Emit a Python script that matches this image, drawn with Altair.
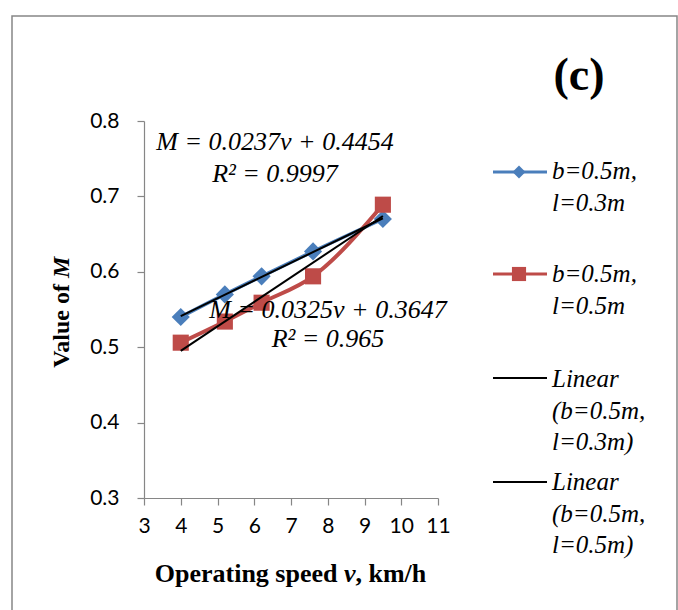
import altair as alt
import pandas as pd

# ---- data ----
speed = [4.0, 5.2, 6.2, 7.6, 9.5]
m_l03 = [0.540, 0.570, 0.594, 0.627, 0.670]
m_l05 = [0.506, 0.534, 0.559, 0.594, 0.689]
series_keys = ["l03", "l05"]
series_labels = ["b=0.5m,\nl=0.3m", "b=0.5m,\nl=0.5m"]
trend_labels = ["Linear\n(b=0.5m,\nl=0.3m)", "Linear\n(b=0.5m,\nl=0.5m)"]
eq_l03 = ["M = 0.0237v + 0.4454", "R² = 0.9997"]
eq_l05 = ["M = 0.0325v + 0.3647", "R² = 0.965"]
x_ticks = [3, 4, 5, 6, 7, 8, 9, 10, 11]
y_ticks = [0.3, 0.4, 0.5, 0.6, 0.7, 0.8]
x_domain = [3, 11]
y_domain = [0.3, 0.8]
fit_extent = [4, 9.5]
panel_label = "(c)"
x_title = ["Operating speed", "v", ", km/h"]
y_title = ["Value of", "M"]

# ---- styling ----
BLUE = "#4a7ebb"
RED = "#be4b48"
GREY = "#868686"
SERIF = "Liberation Serif"
W, H = 294, 377
LEFT, TOP = 144, 121

df = pd.DataFrame({
    "speed": speed * 2,
    "M": m_l03 + m_l05,
    "series": [series_keys[0]] * len(speed) + [series_keys[1]] * len(speed),
})
one = pd.DataFrame({"k": [0]})

xs = alt.Scale(domain=x_domain, nice=False, zero=False)
ys = alt.Scale(domain=y_domain, nice=False, zero=False)
x_enc = alt.X("speed:Q", scale=xs,
              axis=alt.Axis(values=x_ticks, format="d", title=None, grid=False,
                            labelPadding=10, labelOverlap=False, labelFlush=False))
y_enc = alt.Y("M:Q", scale=ys,
              axis=alt.Axis(values=y_ticks, format=".1f", title=None, grid=False,
                            labelPadding=18, labelOverlap=False))

base = alt.Chart(df)

def series_layers(key, color, shape, size, width):
    d = base.transform_filter(alt.datum.series == key)
    line = d.mark_line(color=color, strokeWidth=width, interpolate="monotone").encode(x=x_enc, y=y_enc)
    pts = d.mark_point(shape=shape, filled=True, color=color, size=size, opacity=1).encode(x=x_enc, y=y_enc)
    return line + pts

blue = series_layers(series_keys[0], BLUE, "diamond", 330, 3.5)
red = series_layers(series_keys[1], RED, "square", 260, 4)

trend = base.transform_regression(
    "speed", "M", groupby=["series"], method="linear", extent=fit_extent
).mark_line(color="black", strokeWidth=2).encode(x=x_enc, y=y_enc, detail="series:N")

def txt(text, x, y, size, align="center", baseline="middle", style="normal",
        weight="normal", angle=0, font=SERIF, line_height=None):
    kw = dict(text=text, fontSize=size, align=align, baseline=baseline, font=font,
              fontStyle=style, fontWeight=weight, color="black")
    if angle:
        kw["angle"] = angle
    if line_height:
        kw["lineBreak"] = "\n"
        kw["lineHeight"] = line_height
    return alt.Chart(one).mark_text(**kw).encode(x=alt.value(x), y=alt.value(y))

# equations
eqs = [
    txt(eq_l03[0], 131, 21, 26, style="italic"),
    txt(eq_l03[1], 131, 53, 26, style="italic"),
    txt(eq_l05[0], 184, 189, 26, style="italic"),
    txt(eq_l05[1], 184, 218, 26, style="italic"),
]

# axis titles (with italic symbol); a word space separates the pieces
xt_anchor = 200
x_titles = [
    txt(x_title[0], xt_anchor - 6.5, 461, 26, align="right", baseline="alphabetic", weight="bold"),
    txt(x_title[1], xt_anchor, 461, 26, align="left", baseline="alphabetic", weight="bold", style="italic"),
    txt(x_title[2], xt_anchor + 11.5, 461, 26, align="left", baseline="alphabetic", weight="bold"),
]
yt_anchor = 163
y_titles = [
    txt(y_title[0], -82, yt_anchor, 24, align="right", weight="bold", angle=270),
    txt(y_title[1], -82, yt_anchor - 6, 24, align="left", weight="bold", style="italic", angle=270),
]

panel = txt(panel_label, 435, -45, 46, weight="bold")

# legend
leg_x0, leg_x1, leg_mx, leg_tx = 349, 403, 375, 408
leg_line_y = [51, 153, 257, 361]
leg_text_y = [58, 161, 266, 369]
legend = []
legend.append(alt.Chart(one).mark_rule(color=BLUE, strokeWidth=3).encode(
    x=alt.value(leg_x0), x2=alt.value(leg_x1), y=alt.value(leg_line_y[0])))
legend.append(alt.Chart(one).mark_point(shape="diamond", filled=True, color=BLUE, size=170, opacity=1).encode(
    x=alt.value(leg_mx), y=alt.value(leg_line_y[0])))
legend.append(alt.Chart(one).mark_rule(color=RED, strokeWidth=3).encode(
    x=alt.value(leg_x0), x2=alt.value(leg_x1), y=alt.value(leg_line_y[1])))
legend.append(alt.Chart(one).mark_point(shape="square", filled=True, color=RED, size=200, opacity=1).encode(
    x=alt.value(leg_mx), y=alt.value(leg_line_y[1])))
for i in (2, 3):
    legend.append(alt.Chart(one).mark_rule(color="black", strokeWidth=2).encode(
        x=alt.value(leg_x0), x2=alt.value(leg_x1), y=alt.value(leg_line_y[i])))
labels = series_labels + trend_labels
for i, lab in enumerate(labels):
    legend.append(txt(lab, leg_tx, leg_text_y[i], 25, align="left", baseline="alphabetic",
                      style="italic", line_height=31.5))

border = alt.Chart(one).mark_rect(fillOpacity=0, stroke=GREY, strokeWidth=1.5).encode(
    x=alt.value(-132), x2=alt.value(533), y=alt.value(-105), y2=alt.value(520))

chart = alt.layer(
    border, blue, red, trend, *eqs, *x_titles, *y_titles, panel, *legend
).properties(
    width=W, height=H,
    autosize=alt.AutoSizeParams(type="none"),
    padding={"left": LEFT, "top": TOP, "right": 678 - LEFT - W, "bottom": 610 - TOP - H},
    background="white",
).configure_view(strokeWidth=0).configure_axis(
    domainColor=GREY, tickColor=GREY, tickSize=7, domainWidth=1.2, tickWidth=1.2,
    labelFont="Lato", labelFontSize=21, labelColor="black",
)

chart.save("out.html", embed_options={"renderer": "svg", "actions": False})
